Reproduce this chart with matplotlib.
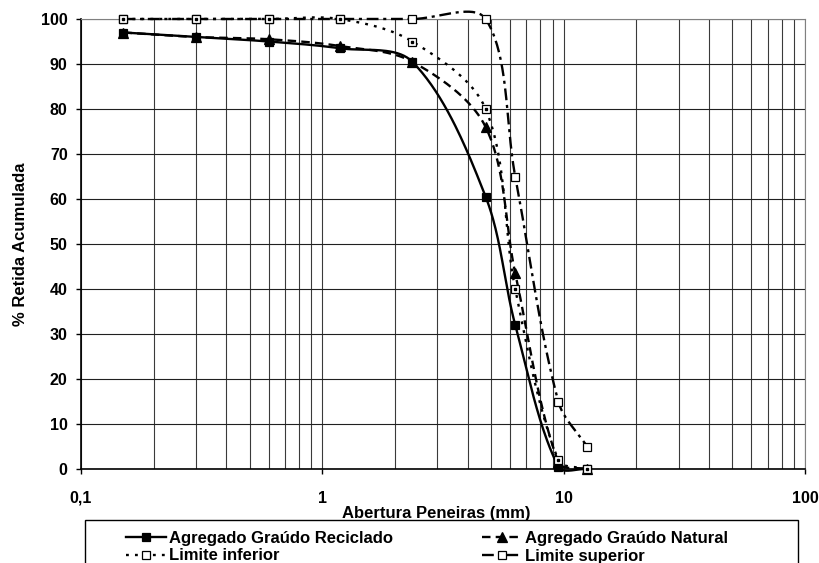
import matplotlib
matplotlib.use("Agg")
import matplotlib.pyplot as plt
import numpy as np
from matplotlib.patches import Rectangle
from matplotlib.ticker import FixedLocator, FixedFormatter, NullFormatter

# aberturas das peneiras (mm) e % retida acumulada
peneiras = [0.15, 0.3, 0.6, 1.18, 2.36, 4.75, 6.3, 9.5, 12.5]
reciclado = [97, 96, 95, 93.5, 90.5, 60.5, 32, 0.5, 0]
natural = [97, 96, 95.5, 94, 90.5, 76, 43.5, 1.5, 0]
lim_inferior = [100, 100, 100, 100, 95, 80, 40, 2, 0]
lim_superior = [100, 100, 100, 100, 100, 100, 65, 15, 5]

nomes = ["Agregado Graúdo Reciclado", "Agregado Graúdo Natural",
         "Limite inferior", "Limite superior"]
xticks = [0.1, 1, 10, 100]
xtick_labels = ["0,1", "1", "10", "100"]

plt.rcParams['font.family'] = ['Liberation Sans', 'DejaVu Sans']
plt.rcParams['font.weight'] = 'bold'

W, H = 819, 563
X0, X1, YT, YB = 81, 805, 19, 469
px_dec = (X1 - X0) / 3.0      # pixels por decada
px_y = (YB - YT) / 100.0      # pixels por unidade de %


def suaviza(x, y, n=40):
    # linha suavizada (Bezier), tangentes ponderadas pelo comprimento das cordas
    P = np.column_stack([np.log10(np.array(x, float)) * px_dec,
                         np.array(y, float) * px_y])
    Pe = np.vstack([P[0], P, P[-1]])
    d = np.hypot(*np.diff(Pe, axis=0).T)
    t = np.linspace(0, 1, n)[:, None]
    out = []
    for i in range(len(P) - 1):
        p0, p1, p2, p3 = Pe[i], Pe[i + 1], Pe[i + 2], Pe[i + 3]
        da, db, dc = d[i], d[i + 1], d[i + 2]
        f1 = db / (3 * (da + db)) if da + db > 0 else 0
        f2 = db / (3 * (db + dc)) if db + dc > 0 else 0
        b1 = p1 + (p2 - p0) * f1
        b2 = p2 - (p3 - p1) * f2
        seg = ((1 - t) ** 3) * p1 + 3 * ((1 - t) ** 2) * t * b1 \
            + 3 * (1 - t) * t ** 2 * b2 + t ** 3 * p2
        out.append(seg)
    c = np.vstack(out)
    return 10 ** (c[:, 0] / px_dec), c[:, 1] / px_y


fig = plt.figure(figsize=(W / 100, H / 100), dpi=100)
ax = fig.add_axes([X0 / W, 1 - YB / H, (X1 - X0) / W, (YB - YT) / H])

series = [
    (reciclado, '-', 's', 'black', 5.5),
    (natural, (0, (3.6, 2.2)), '^', 'black', 6.5),
    (lim_inferior, (0, (1.2, 2.6)), 's', 'white', 5.5),
    (lim_superior, (0, (5.0, 2.0, 1.3, 2.0)), 's', 'white', 6),
]
handles = []
for vals, ls, mk, fc, ms in series:
    xs, ys = suaviza(peneiras, vals)
    ax.plot(xs, ys, color='black', lw=1.7, ls=ls, clip_on=False, zorder=3)
    ax.plot(peneiras, vals, ls='none', marker=mk, ms=ms, mfc=fc, mec='black',
            mew=0.9, clip_on=False, zorder=4)
    h, = ax.plot([], [], color='black', lw=1.7, ls=ls, marker=mk, ms=ms,
                 mfc=fc, mec='black', mew=0.9)
    handles.append(h)

# ponto interno nos marcadores do limite inferior
ax.plot(peneiras, lim_inferior, ls='none', marker='s', ms=1.5, color='black',
        clip_on=False, zorder=5)

ax.set_xscale('log')
ax.set_xlim(0.1, 100)
ax.set_ylim(0, 100)
ax.set_yticks(np.arange(0, 101, 10))
ax.xaxis.set_major_locator(FixedLocator(xticks))
ax.xaxis.set_major_formatter(FixedFormatter(xtick_labels))
ax.xaxis.set_minor_formatter(NullFormatter())
ax.tick_params(axis='both', which='major', labelsize=11.5, length=3.6,
               width=1, direction='out')
ax.tick_params(axis='y', which='major', pad=6)
ax.tick_params(axis='x', which='major', pad=12)
ax.tick_params(axis='x', which='minor', length=0)
ax.grid(True, which='both', axis='x', color='#3a3a3a', lw=0.8)
ax.grid(True, which='major', axis='y', color='#202020', lw=0.8)
ax.set_axisbelow(True)
for s in ['top', 'right']:
    ax.spines[s].set_color('#808080')
for s in ['left', 'bottom']:
    ax.spines[s].set_color('black')
    ax.spines[s].set_linewidth(1.2)

ax.set_xlabel("Abertura Peneiras (mm)", fontsize=12, fontweight='bold')
ax.xaxis.set_label_coords(0.49, (YB - 506) / (YB - YT))
ax.set_ylabel("% Retida Acumulada", fontsize=12, fontweight='bold')
ax.yaxis.set_label_coords((28 - X0) / (X1 - X0), 0.5)

# moldura da legenda (continua abaixo da borda da figura)
fig.add_artist(Rectangle((85 / W, -0.05), (798 - 85) / W, 0.05 + 1 - 520 / H,
                         transform=fig.transFigure, fill=False,
                         edgecolor='black', lw=1.0))
ordem = [0, 2, 1, 3]
fig.legend([handles[i] for i in ordem], [nomes[i] for i in ordem], ncol=2,
           loc='upper left', frameon=False,
           bbox_to_anchor=(126 / W, 1 - 531 / H), fontsize=12,
           handlelength=2.4, handletextpad=0.2, columnspacing=5.3,
           labelspacing=0.15, borderaxespad=0, borderpad=0)

fig.savefig("out.png", dpi=100)
